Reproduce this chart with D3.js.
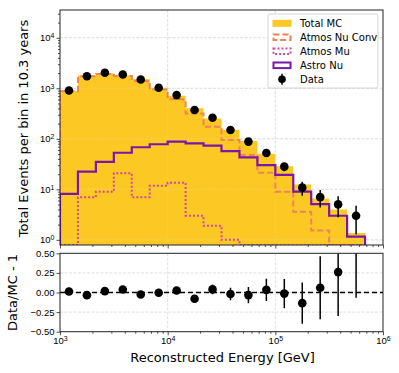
<!DOCTYPE html>
<html>
<head>
<meta charset="utf-8">
<script src="https://cdn.jsdelivr.net/npm/d3@7"></script>
<style>
    body { margin: 0; background: #fff; }
    svg { font-family: "DejaVu Sans", sans-serif; }
</style>
</head>
<body>
<svg id="chart" width="399" height="373"></svg>
<script>
// bin edges in GeV (six bins per decade)
const binEdges = [1000, 1468, 2154, 3162, 4642, 6813, 10000, 14678, 21544, 31623,
    46416, 68129, 100000, 146780, 215443, 316228, 464159, 681292];
const totalMC = [890, 1790, 1990, 1810, 1530, 1030, 715, 405, 252, 152, 91, 50.5, 28.5, 12.5, 6.6, 4.0, 1.36];
const atmosNuConv = [875, 1740, 1930, 1750, 1400, 950, 605, 318, 173, 95, 48, 21.4, 9.0, 3.6, 1.53, 0.5, 0.2];
const atmosMu = [0.5, 7.0, 9.0, 20.8, 7.0, 11.8, 13.5, 3.0, 1.9, 1.0, 0.3, 0.2, 0.2, 0.2, 0.2, 0.2, 0.2];
const astroNu = [8.1, 22.4, 35, 53, 68, 78, 88, 81, 73, 57, 43, 30, 19.3, 9.0, 5.1, 3.0, 1.16];
const dataCounts = [902, 1730, 2025, 1880, 1492, 1026, 733, 373, 262, 149, 88, 52.2, 28.1, 10.8, 7.0, 5.04, 3.0];
const dataErr = [30, 42, 45, 43, 39, 32, 27, 19, 16, 12, 9.4, 7.2, 5.3, 3.3, 2.65, 2.24, 1.73];

const yTicksMain = [1, 10, 100, 1000, 10000];
const xTicks = [1e3, 1e4, 1e5, 1e6];
const ratioTicks = [0.5, 0.25, 0, -0.25, -0.5];

const legendItems = ["Total MC", "Atmos Nu Conv", "Atmos Mu", "Astro Nu", "Data"];

const colors = {
    total: "#fcc924",
    conv: "#f0825a",
    mu: "#d24a9e",
    astro: "#7a16a8"
};

const svg = d3.select("#chart");
const left = 60, right = 383;
const topMain = 10, bottomMain = 245;
const topRatio = 253.3, bottomRatio = 331.7;

const x = d3.scaleLog().domain([1e3, 1e6]).range([left, right]);
const y = d3.scaleLog().domain([0.79, 35500]).range([bottomMain, topMain]).clamp(true);
const yr = d3.scaleLinear().domain([-0.5, 0.5]).range([bottomRatio, topRatio]);

const centers = binEdges.slice(0, -1).map((e, i) => Math.sqrt(e * binEdges[i + 1]));

svg.append("defs").append("clipPath").attr("id", "clipMain")
    .append("rect").attr("x", left).attr("y", topMain).attr("width", right - left).attr("height", bottomMain - topMain);
svg.select("defs").append("clipPath").attr("id", "clipRatio")
    .append("rect").attr("x", left).attr("y", topRatio).attr("width", right - left).attr("height", bottomRatio - topRatio);

// superscript tick label helper
function powLabel(sel, v) {
    const e = Math.round(Math.log10(v));
    sel.text("");
    sel.append("tspan").text("10");
    sel.append("tspan").attr("dy", "-0.45em").style("font-size", "7px").text(e);
}

// grid
const gMainGrid = svg.append("g");
gMainGrid.selectAll("line.h").data(yTicksMain).join("line")
    .attr("x1", left).attr("x2", right)
    .attr("y1", d => y(d)).attr("y2", d => y(d))
    .attr("stroke", "#d8d8d8").attr("stroke-width", 0.8).attr("stroke-dasharray", "3,1.5");
gMainGrid.selectAll("line.v").data([1e4, 1e5]).join("line")
    .attr("y1", topMain).attr("y2", bottomMain)
    .attr("x1", d => x(d)).attr("x2", d => x(d))
    .attr("stroke", "#d8d8d8").attr("stroke-width", 0.8).attr("stroke-dasharray", "3,1.5");

// step path from bin values
function stepPoints(vals) {
    const pts = [[x(binEdges[0]), bottomMain]];
    vals.forEach((v, i) => {
        pts.push([x(binEdges[i]), y(v)]);
        pts.push([x(binEdges[i + 1]), y(v)]);
    });
    pts.push([x(binEdges[vals.length]), bottomMain]);
    return pts;
}
const line = d3.line();

const gMain = svg.append("g").attr("clip-path", "url(#clipMain)");

gMain.append("path")
    .attr("d", line(stepPoints(totalMC)) + "Z")
    .attr("fill", colors.total)
    .attr("stroke", "none");

// faint grid showing through the fill
gMain.selectAll("line.h2").data(yTicksMain).join("line")
    .attr("x1", left).attr("x2", right)
    .attr("y1", d => y(d)).attr("y2", d => y(d))
    .attr("stroke", "#ddd").attr("stroke-opacity", 0.35).attr("stroke-width", 0.8).attr("stroke-dasharray", "3,1.5");
gMain.selectAll("line.v2").data([1e4, 1e5]).join("line")
    .attr("y1", topMain).attr("y2", bottomMain)
    .attr("x1", d => x(d)).attr("x2", d => x(d))
    .attr("stroke", "#ddd").attr("stroke-opacity", 0.35).attr("stroke-width", 0.8).attr("stroke-dasharray", "3,1.5");

gMain.append("path")
    .attr("d", line(stepPoints(atmosNuConv)))
    .attr("fill", "none").attr("stroke", colors.conv)
    .attr("stroke-width", 2).attr("stroke-dasharray", "6,3");

gMain.append("path")
    .attr("d", line(stepPoints(atmosMu)))
    .attr("fill", "none").attr("stroke", colors.mu)
    .attr("stroke-width", 2).attr("stroke-dasharray", "2,2");

gMain.append("path")
    .attr("d", line(stepPoints(astroNu)))
    .attr("fill", "none").attr("stroke", colors.astro)
    .attr("stroke-width", 2.2);

// data points
gMain.selectAll("line.err").data(dataCounts).join("line")
    .attr("x1", (d, i) => x(centers[i])).attr("x2", (d, i) => x(centers[i]))
    .attr("y1", (d, i) => y(d - dataErr[i])).attr("y2", (d, i) => y(d + dataErr[i]))
    .attr("stroke", "#000").attr("stroke-width", 1.5);
gMain.selectAll("circle").data(dataCounts).join("circle")
    .attr("cx", (d, i) => x(centers[i])).attr("cy", d => y(d))
    .attr("r", 4.3).attr("fill", "#000");

// main frame
svg.append("rect").attr("x", left).attr("y", topMain)
    .attr("width", right - left).attr("height", bottomMain - topMain)
    .attr("fill", "none").attr("stroke", "#222").attr("stroke-width", 1);

// main axes
const yAxisMain = svg.append("g").attr("transform", `translate(${left},0)`)
    .call(d3.axisLeft(y).tickValues(yTicksMain).tickSize(3.5).tickPadding(2));
yAxisMain.selectAll("text").each(function(d) { powLabel(d3.select(this), d); });
const yMinor = [];
for (let p = 0; p < 5; p++) for (let k = 2; k < 10; k++) if (k * 10 ** p < 35500) yMinor.push(k * 10 ** p);
svg.append("g").attr("transform", `translate(${left},0)`)
    .call(d3.axisLeft(y).tickValues(yMinor).tickSize(2).tickFormat(""));

const xMinor = [];
for (let p = 3; p < 6; p++) for (let k = 2; k < 10; k++) xMinor.push(k * 10 ** p);
svg.append("g").attr("transform", `translate(0,${bottomMain})`)
    .call(d3.axisBottom(x).tickValues(xTicks).tickSize(3.5).tickFormat(""));
svg.append("g").attr("transform", `translate(0,${bottomMain})`)
    .call(d3.axisBottom(x).tickValues(xMinor).tickSize(2).tickFormat(""));

// legend
const lg = svg.append("g").attr("transform", "translate(268,14)");
lg.append("rect").attr("width", 110).attr("height", 74).attr("rx", 2)
    .attr("fill", "#fff").attr("fill-opacity", 0.8).attr("stroke", "#ccc").attr("stroke-width", 0.8);
legendItems.forEach((name, i) => {
    const row = lg.append("g").attr("transform", `translate(0,${9.3 + i * 14})`);
    if (i === 0) {
        row.append("rect").attr("x", 4.5).attr("y", -3.5).attr("width", 19).attr("height", 7).attr("fill", colors.total);
    } else if (i < 4) {
        const st = [colors.conv, colors.mu, colors.astro][i - 1];
        const r = row.append("rect").attr("x", 5.5).attr("y", -2.8).attr("width", 17).attr("height", 5.6)
            .attr("fill", "none").attr("stroke", st).attr("stroke-width", 2);
        if (i === 1) r.attr("stroke-dasharray", "6,3");
        if (i === 2) r.attr("stroke-dasharray", "2,2");
    } else {
        row.append("line").attr("x1", 14).attr("x2", 14).attr("y1", -5.5).attr("y2", 5.5)
            .attr("stroke", "#000").attr("stroke-width", 1.5);
        row.append("circle").attr("cx", 14).attr("cy", 0).attr("r", 3.8).attr("fill", "#000");
    }
    row.append("text").attr("x", 32).attr("y", 3.6).style("font-size", "10px").text(name);
});

// ratio panel
const ratio = dataCounts.map((d, i) => d / totalMC[i] - 1);
const ratioErr = dataErr.map((e, i) => e / totalMC[i]);

svg.append("g").selectAll("line").data(ratioTicks.filter(t => Math.abs(t) < 0.5)).join("line")
    .attr("x1", left).attr("x2", right)
    .attr("y1", d => yr(d)).attr("y2", d => yr(d))
    .attr("stroke", "#d8d8d8").attr("stroke-width", 0.8).attr("stroke-dasharray", "3,1.5");
svg.append("g").selectAll("line").data([1e4, 1e5]).join("line")
    .attr("x1", d => x(d)).attr("x2", d => x(d))
    .attr("y1", topRatio).attr("y2", bottomRatio)
    .attr("stroke", "#d8d8d8").attr("stroke-width", 0.8).attr("stroke-dasharray", "3,1.5");

const gRatio = svg.append("g").attr("clip-path", "url(#clipRatio)");
gRatio.append("line").attr("x1", left).attr("x2", right)
    .attr("y1", yr(0)).attr("y2", yr(0))
    .attr("stroke", "#000").attr("stroke-width", 1.5).attr("stroke-dasharray", "5,3");
gRatio.selectAll("line.err").data(ratio).join("line")
    .attr("x1", (d, i) => x(centers[i])).attr("x2", (d, i) => x(centers[i]))
    .attr("y1", (d, i) => yr(d - ratioErr[i])).attr("y2", (d, i) => yr(d + ratioErr[i]))
    .attr("stroke", "#000").attr("stroke-width", 1.5);
gRatio.selectAll("circle").data(ratio).join("circle")
    .attr("cx", (d, i) => x(centers[i])).attr("cy", d => yr(d))
    .attr("r", 4.3).attr("fill", "#000");

svg.append("rect").attr("x", left).attr("y", topRatio)
    .attr("width", right - left).attr("height", bottomRatio - topRatio)
    .attr("fill", "none").attr("stroke", "#222").attr("stroke-width", 1);

svg.append("g").attr("transform", `translate(${left},0)`)
    .call(d3.axisLeft(yr).tickValues(ratioTicks).tickSize(3.5).tickPadding(2)
        .tickFormat(d => d3.format(".2f")(d).replace("-", "\u2212")));

const xAxisR = svg.append("g").attr("transform", `translate(0,${bottomRatio})`)
    .call(d3.axisBottom(x).tickValues(xTicks).tickSize(3.5).tickPadding(2));
xAxisR.selectAll("text").each(function(d) { powLabel(d3.select(this), d); });
svg.append("g").attr("transform", `translate(0,${bottomRatio})`)
    .call(d3.axisBottom(x).tickValues(xMinor).tickSize(2).tickFormat(""));

svg.selectAll(".domain").remove();
svg.selectAll(".tick text").style("font-size", "9.5px").attr("fill", "#000");
svg.selectAll(".tick line").attr("stroke", "#222").attr("stroke-width", 0.8);

// axis titles
svg.append("text")
    .attr("transform", `translate(28,${(topMain + bottomMain) / 2 + 1}) rotate(-90)`)
    .attr("text-anchor", "middle").style("font-size", "13px")
    .text("Total Events per bin in 10.3 years");
svg.append("text")
    .attr("transform", `translate(17,${(topRatio + bottomRatio) / 2}) rotate(-90)`)
    .attr("text-anchor", "middle").style("font-size", "13px")
    .text("Data/MC - 1");
svg.append("text")
    .attr("x", (left + right) / 2 + 1).attr("y", 362)
    .attr("text-anchor", "middle").style("font-size", "13px")
    .text("Reconstructed Energy [GeV]");
</script>
</body>
</html>
